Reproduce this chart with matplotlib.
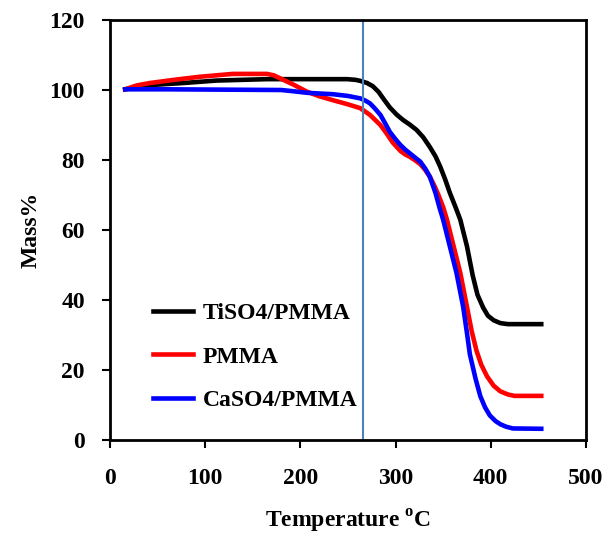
import matplotlib
matplotlib.use("Agg")
import matplotlib.pyplot as plt

plt.rcParams['font.family'] = ['Liberation Serif', 'DejaVu Serif']
plt.rcParams['font.weight'] = 'bold'
plt.rcParams['mathtext.fontset'] = 'custom'
plt.rcParams['mathtext.rm'] = 'Liberation Serif:bold'
plt.rcParams['mathtext.bf'] = 'Liberation Serif:bold'

# TGA curves
ti_temp = [16, 30, 42, 77, 112, 165, 249, 258, 263, 270, 276, 282, 288, 294, 301, 308,
           315, 322, 329, 336, 342, 347, 352, 357, 363, 368, 375, 381, 386, 392, 397,
           403, 410, 418, 453]
ti_mass = [100.2, 100.9, 101.4, 102.0, 102.7, 103.1, 103.1, 102.9, 102.6, 102.0, 101.1,
           99.5, 97.2, 95.0, 93.0, 91.4, 90.1, 88.6, 86.5, 83.7, 81.0, 78.0, 74.5, 70.6,
           66.5, 62.9, 55.3, 47.0, 41.5, 37.8, 35.5, 34.2, 33.4, 33.1, 33.1]

pmma_temp = [16, 28, 42, 70, 95, 129, 165, 172, 179, 193, 207, 220, 234, 250, 263, 273,
             284, 290, 297, 305, 310, 315, 320, 326, 331, 336, 341, 345, 350, 354, 361,
             368, 375, 380, 385, 390, 396, 403, 410, 418, 425, 453]
pmma_mass = [100.2, 101.3, 102.0, 103.0, 103.8, 104.6, 104.6, 104.2, 103.3, 101.5, 99.5,
             98.2, 97.1, 95.9, 94.8, 92.9, 90.0, 87.8, 85.0, 82.6, 81.6, 80.9, 80.0, 78.8,
             77.2, 75.2, 72.5, 70.0, 66.5, 62.9, 55.3, 47.7, 38.0, 31.0, 25.5, 21.5, 18.2,
             15.5, 13.9, 13.0, 12.6, 12.6]

ca_temp = [16, 60, 120, 180, 194, 207, 220, 234, 250, 263, 268, 273, 278, 284, 289, 294,
           300, 305, 310, 315, 320, 326, 331, 336, 342, 346, 350, 357, 364, 371, 375, 378,
           384, 389, 394, 399, 405, 410, 416, 423, 453]
ca_mass = [100.2, 100.2, 100.1, 100.0, 99.6, 99.2, 99.0, 98.8, 98.3, 97.6, 97.0, 96.2,
           94.8, 92.9, 90.5, 88.0, 85.9, 84.3, 83.0, 81.9, 80.8, 79.5, 77.6, 75.2, 70.5,
           66.5, 62.9, 55.3, 47.7, 38.0, 30.5, 24.5, 17.5, 12.5, 9.3, 7.0, 5.4, 4.5, 3.8,
           3.3, 3.2]

onset_temp = 266

fig = plt.figure(figsize=(6.06, 5.35), dpi=100)
ax = fig.add_axes([0.1815, 0.1776, 0.7855, 0.785])

ax.plot(ti_temp, ti_mass, color='black', lw=3.3, label='TiSO4/PMMA')
ax.plot(pmma_temp, pmma_mass, color='red', lw=3.3, label='PMMA')
ax.plot(ca_temp, ca_mass, color='blue', lw=3.3, label='CaSO4/PMMA')
ax.axvline(onset_temp, color='#4f81bd', lw=1.5)

ax.set_xlim(0, 500)
ax.set_ylim(0, 120)
ax.set_xticks([0, 100, 200, 300, 400, 500])
ax.set_yticks([0, 20, 40, 60, 80, 100, 120])
ax.tick_params(direction='out', length=6, width=1.5, labelsize=17)
ax.tick_params(axis='x', pad=14)
ax.tick_params(axis='y', pad=12)
for s in ax.spines.values():
    s.set_linewidth(2)

ax.set_xlabel(r'Temperature $^{\mathbf{o}}$C', fontsize=17, fontweight='bold', labelpad=14)
ax.set_ylabel('Mass%', fontsize=17, fontweight='bold', labelpad=6)

ax.legend(loc='lower left', bbox_to_anchor=(0.045, 0.018), frameon=False,
          handlelength=1.7, handletextpad=0.42, labelspacing=0.93,
          prop={'weight': 'bold', 'size': 17})

fig.savefig('out.png', dpi=100)
